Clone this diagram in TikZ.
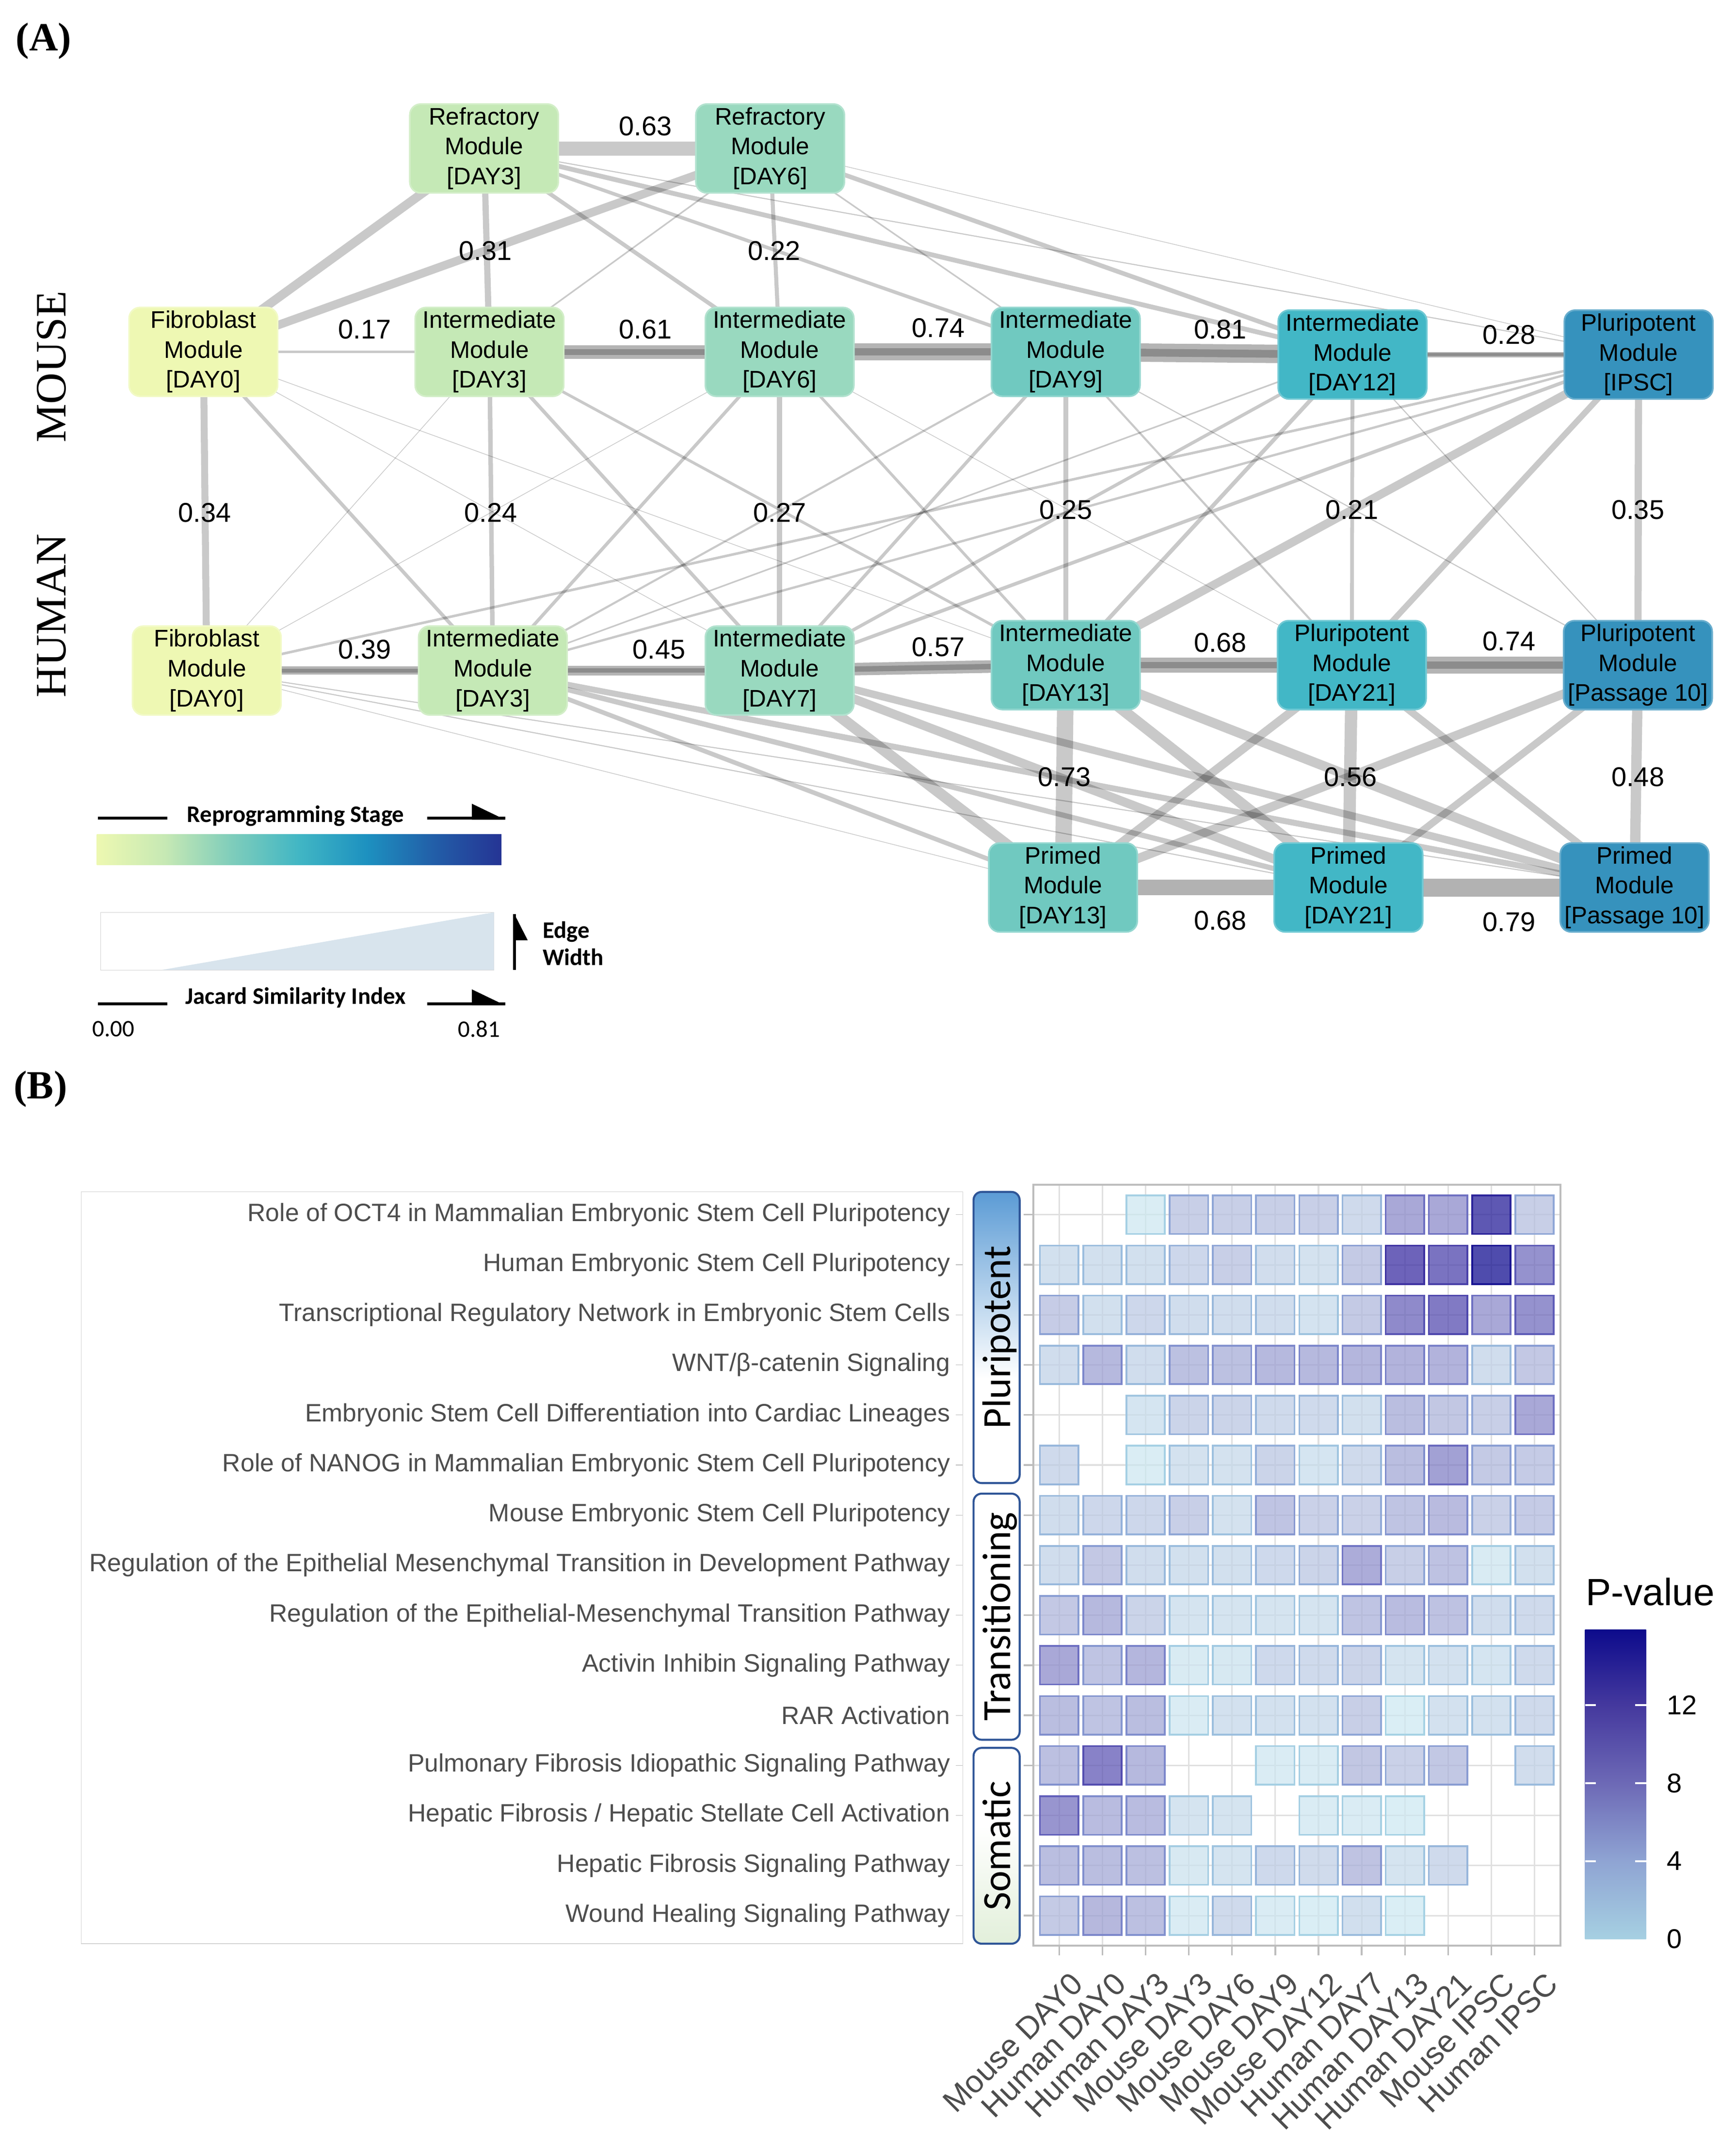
\documentclass[tikz,border=0pt]{standalone}
\usepackage{fontspec}
\newfontfamily\arialf{Liberation Sans}
\newfontfamily\timesf{Liberation Serif}
\newfontfamily\calf{Carlito}
\usetikzlibrary{backgrounds}

% stage colours of the modules
\definecolor{stA}{HTML}{EEF8B3}
\definecolor{stB}{HTML}{C5E9B6}
\definecolor{stC}{HTML}{99D9BF}
\definecolor{stD}{HTML}{70C9C0}
\definecolor{stE}{HTML}{42B7C6}
\definecolor{stF}{HTML}{3692BD}
\definecolor{spineA}{HTML}{B4B4B4}
\definecolor{spineB}{HTML}{8C8C8C}
\definecolor{labgray}{HTML}{4D4D4D}
\definecolor{gridgray}{HTML}{E0E0E0}
\definecolor{framegray}{HTML}{BDBDBD}
\definecolor{boxgray}{HTML}{D4D4D4}
\definecolor{catblue}{HTML}{2F5597}
\definecolor{pluriblue}{HTML}{5B9BD5}
\definecolor{somgreen}{HTML}{E2EFDA}
\definecolor{triblue}{HTML}{D8E4ED}
% YlGnBu
\definecolor{ylA}{HTML}{EDF8B1}
\definecolor{ylB}{HTML}{C7E9B4}
\definecolor{ylC}{HTML}{7FCDBB}
\definecolor{ylD}{HTML}{41B6C4}
\definecolor{ylE}{HTML}{1D91C0}
\definecolor{ylF}{HTML}{225EA8}
\definecolor{ylG}{HTML}{253494}
% p-value scale
\definecolor{pvA}{HTML}{A6D0E2}
\definecolor{pvB}{HTML}{8FA4D3}
\definecolor{pvC}{HTML}{6D69B6}
\definecolor{pvD}{HTML}{45399E}
\definecolor{pvE}{HTML}{0D0B8C}
\definecolor{hmA}{HTML}{D0EBF2}
\definecolor{hmB}{HTML}{B6BFDF}
\definecolor{hmC}{HTML}{8C8BCA}
\definecolor{hmD}{HTML}{3C2FA3}
\definecolor{hmE}{HTML}{06068B}
\definecolor{hlA}{HTML}{A8D5E5}
\definecolor{hlB}{HTML}{8FA6D6}
\definecolor{hlC}{HTML}{6E70C2}
\definecolor{hlD}{HTML}{3E32A2}
\definecolor{hlE}{HTML}{0E0C8E}

\pgfdeclarehorizontalshading{ylgnbu}{100bp}{color(0bp)=(ylA); color(25bp)=(ylA); color(33.33bp)=(ylB); color(41.67bp)=(ylC); color(50bp)=(ylD); color(58.33bp)=(ylE); color(66.67bp)=(ylF); color(75bp)=(ylG); color(100bp)=(ylG)}
\pgfdeclareverticalshading{pluri}{100bp}{color(0bp)=(white); color(25bp)=(white); color(43bp)=(white); color(75bp)=(pluriblue); color(100bp)=(pluriblue)}
\pgfdeclareverticalshading{soma}{100bp}{color(0bp)=(somgreen); color(25bp)=(somgreen); color(55bp)=(white); color(100bp)=(white)}
\pgfdeclareverticalshading{pvbar}{100bp}{color(0bp)=(pvA); color(25bp)=(pvA); color(37.6bp)=(pvB); color(50.2bp)=(pvC); color(62.7bp)=(pvD); color(75bp)=(pvE); color(100bp)=(pvE)}

\newcommand\modfont{\arialf\fontsize{17.7}{22}\selectfont}
\newcommand\jacfont{\arialf\fontsize{20}{24}\selectfont}
\newcommand\rowfont{\arialf\fontsize{18.5}{22}\selectfont}
\newcommand\colfont{\arialf\fontsize{23}{26}\selectfont}
\newcommand\legfont{\calf\fontsize{17.5}{20}\selectfont}
\newcommand\legbold{\calf\bfseries\fontsize{17.5}{20}\selectfont}
\newcommand\catfont{\calf\fontsize{29.5}{32}\selectfont}
\newcommand\sidefont{\timesf\fontsize{32}{36}\selectfont}
\newcommand\panelfont{\timesf\bfseries\fontsize{29.5}{33}\selectfont}

\tikzset{
  module/.style={fill=#1, draw=#1!75!white, line width=1.2, rounded corners=8,
    minimum width=109.5, minimum height=65.5, inner sep=1, align=center, font=\modfont},
  jac/.style={draw=black, draw opacity=.21, line width={max(0.5,18*#1-1)}},
  primed/.style={draw=black, draw opacity=.3, line width={18*#1-1}},
  spine/.style={draw=spineA, line width={18*#1-1}, postaction={draw=spineB, line width={7*#1}}},
  jaclabel/.style={font=\jacfont, inner sep=0},
  tile/.style={line width=1.3, fill opacity=.75},
}

\begin{document}
\begin{tikzpicture}[x=1pt, y=-1pt]
\useasboundingbox (0,0) rectangle (1280,1580.4);

\node (panA) at (11.5,30.4) [anchor=west, inner sep=0, font=\panelfont]{(A)};
\node (mouse) at (38,270.5) [rotate=90, font=\sidefont]{MOUSE};
\node (human) at (38,454) [rotate=90, font=\sidefont]{HUMAN};

% modules
\node (rM3) at (357,109.5) [module=stB]{Refractory\\Module\\{[DAY3]}};
\node (rM6) at (568,109.5) [module=stC]{Refractory\\Module\\{[DAY6]}};
\node (fM0) at (150,259.5) [module=stA]{Fibroblast\\Module\\{[DAY0]}};
\node (iM3) at (361,259.5) [module=stB]{Intermediate\\Module\\{[DAY3]}};
\node (iM6) at (575,259.5) [module=stC]{Intermediate\\Module\\{[DAY6]}};
\node (iM9) at (786,259.5) [module=stD]{Intermediate\\Module\\{[DAY9]}};
\node (iM12) at (997.5,261.5) [module=stE]{Intermediate\\Module\\{[DAY12]}};
\node (pMi) at (1208.5,261.5) [module=stF]{Pluripotent\\Module\\{[IPSC]}};
\node (fH0) at (152.5,494.5) [module=stA]{Fibroblast\\Module\\{[DAY0]}};
\node (iH3) at (363.5,494.5) [module=stB]{Intermediate\\Module\\{[DAY3]}};
\node (iH7) at (575,494.5) [module=stC]{Intermediate\\Module\\{[DAY7]}};
\node (iH13) at (786,490.5) [module=stD]{Intermediate\\Module\\{[DAY13]}};
\node (pH21) at (997,490.5) [module=stE]{Pluripotent\\Module\\{[DAY21]}};
\node (pH10) at (1208,490.5) [module=stF]{Pluripotent\\Module\\{[Passage 10]}};
\node (prH13) at (784,654.5) [module=stD]{Primed\\Module\\{[DAY13]}};
\node (prH21) at (994.5,654.5) [module=stE]{Primed\\Module\\{[DAY21]}};
\node (prH10) at (1205.5,654.5) [module=stF]{Primed\\Module\\{[Passage 10]}};

\begin{scope}[on background layer]
\foreach \a/\b/\j in {rM3/rM6/0.63, rM3/fM0/0.42, rM6/fM0/0.40, rM3/iM3/0.31, rM6/iM6/0.22,
    rM3/iM6/0.22, rM6/iM3/0.12, rM3/iM9/0.20, rM3/iM12/0.25, rM3/pMi/0.10, rM6/iM9/0.12,
    rM6/iM12/0.24, rM6/pMi/0.08, fM0/iM3/0.17,
    fM0/fH0/0.34, iM3/iH3/0.24, iM6/iH7/0.27, iM9/iH13/0.25, iM12/pH21/0.21, pMi/pH10/0.35,
    fM0/iH3/0.20, fM0/iH7/0.07, fM0/iH13/0.06, iM3/fH0/0.08, iM3/iH7/0.20, iM3/iH13/0.17,
    iM6/fH0/0.06, iM6/iH3/0.19, iM6/iH13/0.17, iM6/pH21/0.08, iM9/iH3/0.14, iM9/iH7/0.19,
    iM9/pH21/0.14, iM9/pH10/0.10, iM12/iH3/0.12, iM12/iH7/0.19, iM12/iH13/0.22, iM12/pH10/0.10,
    pMi/fH0/0.16, pMi/iH3/0.15, pMi/iH7/0.20, pMi/iH13/0.40, pMi/pH21/0.30,
    iH13/prH13/0.73, pH21/prH21/0.56, pH10/prH10/0.48, iH13/prH21/0.50, iH13/prH10/0.45,
    pH21/prH13/0.40, pH21/prH10/0.35, pH10/prH13/0.42, pH10/prH21/0.35, iH7/prH13/0.50,
    iH7/prH21/0.42, iH7/prH10/0.36, iH3/prH13/0.24, iH3/prH21/0.27, iH3/prH10/0.30,
    fH0/prH13/0.08, fH0/prH21/0.10, fH0/prH10/0.10}
  \draw[jac=\j] (\a.center) -- (\b.center);
\foreach \a/\b/\j in {prH13/prH21/0.68, prH21/prH10/0.79}
  \draw[primed=\j] (\a.center) -- (\b.center);
\foreach \a/\b/\j in {iM3/iM6/0.61, iM6/iM9/0.74, iM9/iM12/0.81, iM12/pMi/0.28,
    fH0/iH3/0.39, iH3/iH7/0.45, iH7/iH13/0.57, iH13/pH21/0.68, pH21/pH10/0.74}
  \draw[spine=\j] (\a.center) -- (\b.center);
\end{scope}

% similarity values
\foreach \x/\y/\t [count=\k] in {476/93/0.63, 358/185/0.31, 571/185/0.22, 269/243/0.17,
    476/243/0.61, 692/242/0.74, 900/243/0.81, 1113/247/0.28, 151/378/0.34, 362/378/0.24,
    575/378/0.27, 786/376/0.25, 997/376/0.21, 1208/376/0.35, 269/479/0.39, 486/479/0.45,
    692/477/0.57, 900/474/0.68, 1113/473/0.74, 785/573/0.73, 996/573/0.56, 1208/573/0.48,
    900/679/0.68, 1113/680/0.79}
  \node (jl\k) at (\x,\y) [jaclabel]{\t};

% legend
\node (stage) at (218,601.6) [font=\legbold]{Reprogramming Stage};
\draw[line width=2.2] (72.3,603.4) -- (123.4,603.4);
\draw[line width=2.2] (315,603.4) -- (372.5,603.4);
\fill (348,592.7) -- (372.5,604.5) -- (348,604.5) -- cycle;
\shade[shading=ylgnbu] (71.4,615.3) rectangle (369.8,637.9);
\draw[boxgray] (74.2,672.8) rectangle (364.3,715.3);
\fill[triblue] (119.3,715.3) -- (364.3,672.8) -- (364.3,715.3) -- cycle;
\draw[line width=2.2] (379.4,674.2) -- (379.4,715.3);
\fill (379.4,674.2) -- (389.2,693.4) -- (379.4,693.4) -- cycle;
\node (edgew) at (400,695.7) [anchor=west, align=left, inner sep=0, font=\legbold]{Edge\\Width};
\node (jacc) at (218,735.8) [font=\legbold]{Jacard Similarity Index};
\draw[line width=2.2] (72.3,740.3) -- (123.4,740.3);
\draw[line width=2.2] (315,740.3) -- (372.5,740.3);
\fill (348,729.6) -- (372.5,741.4) -- (348,741.4) -- cycle;
\node (jmin) at (83.7,759) [font=\legfont]{0.00};
\node (jmax) at (353.4,759) [font=\legfont]{0.81};

% (B) heat map
\node (panB) at (10,803) [anchor=west, inner sep=0, font=\panelfont]{(B)};
\draw[boxgray] (60,879) rectangle (710,1433.4);
\foreach \lab [count=\r] in {Role of OCT4 in Mammalian Embryonic Stem Cell Pluripotency,
    Human Embryonic Stem Cell Pluripotency,
    Transcriptional Regulatory Network in Embryonic Stem Cells,
    WNT/β-catenin Signaling,
    Embryonic Stem Cell Differentiation into Cardiac Lineages,
    Role of NANOG in Mammalian Embryonic Stem Cell Pluripotency,
    Mouse Embryonic Stem Cell Pluripotency,
    Regulation of the Epithelial Mesenchymal Transition in Development Pathway,
    Regulation of the Epithelial-Mesenchymal Transition Pathway,
    Activin Inhibin Signaling Pathway,
    RAR Activation,
    Pulmonary Fibrosis Idiopathic Signaling Pathway,
    Hepatic Fibrosis / Hepatic Stellate Cell Activation,
    Hepatic Fibrosis Signaling Pathway,
    Wound Healing Signaling Pathway}{
  \node (pw\r) at (701,{895.8+36.92*(\r-1)}) [anchor=east, inner sep=0, font=\rowfont, text=labgray]{\lab};
  \draw[framegray] (705,{895.8+36.92*(\r-1)}) -- (710,{895.8+36.92*(\r-1)});
}

\path[draw=catblue, line width=1.5, rounded corners=6, shade, shading=pluri] (718,879) rectangle (752,1093.7);
\path[draw=catblue, line width=1.5, rounded corners=6, fill=white] (718,1101.5) rectangle (752,1283);
\path[draw=catblue, line width=1.5, rounded corners=6, shade, shading=soma] (718,1289) rectangle (752,1433.4);
\node (catP) at (745,986.3) [rotate=90, anchor=base, font=\catfont]{Pluripotent};
\node (catT) at (745,1192.2) [rotate=90, anchor=base, font=\catfont]{Transitioning};
\node (catS) at (745,1361.2) [rotate=90, anchor=base, font=\catfont]{Somatic};

\foreach \c in {1,...,12}
  \draw[gridgray, line width=1.1] ({781.2+31.87*(\c-1)},873.6) -- ++(0,561.3);
\foreach \r in {1,...,15}
  \draw[gridgray, line width=1.1] (762.1,{895.8+36.92*(\r-1)}) -- (1150.9,{895.8+36.92*(\r-1)});

\foreach \vals [count=\r] in {{-1,-1,0.3,3,3,3,3,2,6.5,6.5,12.5,3},
    {1.5,1.5,1.5,2.3,3,1.7,1.3,3.5,11,10,14,8},
    {3.3,1.5,2.3,1.8,1.8,1.8,1.2,3.5,8.5,9.5,6.5,8},
    {1.8,5,1.8,4.3,4.3,5,5,5.3,5.5,5.5,1.8,3.6},
    {-1,-1,1,2.5,2.5,2,2,1.5,4.6,3.8,3,6.5},
    {2,-1,0.3,1.3,1.3,2.5,1,2,4.6,7,3.5,3.4},
    {1.8,2.3,2.3,3,1.3,4,2.8,2.8,4,4.8,2.8,3.4},
    {1.8,3.6,1.8,1.5,1.5,2.1,2.6,6.2,3,4.2,0.5,1.5},
    {3.6,5,2.5,1.1,1.1,1.1,1.1,4,4.7,4.2,1.8,2},
    {6.5,4,5.3,0.5,0.7,2.1,2,2.5,1.1,1.4,1,2},
    {4.6,4,4.6,0.4,1.4,1.4,1.4,3,0.2,1.4,1.4,2},
    {4.4,9,5,-1,-1,0.4,0.4,3.8,2.8,3.7,-1,1.7},
    {7.8,4.7,4.7,1.1,1.1,-1,0.4,0.4,0.2,-1,-1,-1},
    {4.6,4.6,4.4,0.6,1.1,2.1,1.9,4.1,1.1,2,-1,-1},
    {3.5,5.1,4.4,0.4,2,0.4,0.2,1.6,0.2,-1,-1,-1}}{
  \foreach \v [count=\c] in \vals {
    \pgfmathtruncatemacro\has{\v<0 ? 0 : 1}
    \ifnum\has=1
      \pgfmathtruncatemacro\seg{\v<3 ? 0 : (\v<6.5 ? 1 : (\v<11 ? 2 : 3))}
      \ifcase\seg
        \pgfmathtruncatemacro\pct{100*\v/3}\colorlet{tilefill}{hmB!\pct!hmA}\colorlet{tileline}{hlB!\pct!hlA}
      \or
        \pgfmathtruncatemacro\pct{100*(\v-3)/3.5}\colorlet{tilefill}{hmC!\pct!hmB}\colorlet{tileline}{hlC!\pct!hlB}
      \or
        \pgfmathtruncatemacro\pct{100*(\v-6.5)/4.5}\colorlet{tilefill}{hmD!\pct!hmC}\colorlet{tileline}{hlD!\pct!hlC}
      \or
        \pgfmathtruncatemacro\pct{min(100,100*(\v-11)/4)}\colorlet{tilefill}{hmE!\pct!hmD}\colorlet{tileline}{hlE!\pct!hlD}
      \fi
      \pgfmathsetmacro\cx{781.2+31.87*(\c-1)}
      \pgfmathsetmacro\cy{895.8+36.92*(\r-1)}
      \draw[tile, fill=tilefill, draw=tileline] (\cx-14.2,\cy-14.2) rectangle (\cx+14.2,\cy+14.2);
    \fi
  }
}
\draw[framegray, line width=1.5] (762.1,873.6) rectangle (1150.9,1434.9);
\foreach \r in {1,...,15}
  \draw[framegray, line width=1.2] (755,{895.8+36.92*(\r-1)}) -- (762.1,{895.8+36.92*(\r-1)});
\foreach \lab [count=\c] in {Mouse DAY0, Human DAY0, Human DAY3, Mouse DAY3, Mouse DAY6, Mouse DAY9,
    Mouse DAY12, Human DAY7, Human DAY13, Human DAY21, Mouse IPSC, Human IPSC}{
  \draw[framegray, line width=1.2] ({781.2+31.87*(\c-1)},1434.9) -- ++(0,7);
  \node (day\c) at ({788.5+31.87*(\c-1)},1453) [rotate=45, anchor=north east, inner sep=0, font=\colfont, text=labgray]{\lab};
}

% p-value scale
\node (pval) at (1217,1174) [font=\arialf\fontsize{28}{30}\selectfont]{P-value};
\shade[shading=pvbar] (1169,1202) rectangle (1214,1430);
\node (tk0) at (1229,1430) [anchor=west, inner sep=0, font=\jacfont]{0};
\foreach \t in {4,8,12}{
  \draw[white, line width=1.3] (1169,{1430-14.375*\t}) -- ++(8,0);
  \draw[white, line width=1.3] (1214,{1430-14.375*\t}) -- ++(-8,0);
  \node (tk\t) at (1229,{1430-14.375*\t}) [anchor=west, inner sep=0, font=\jacfont]{\t};
}
\end{tikzpicture}
\end{document}
